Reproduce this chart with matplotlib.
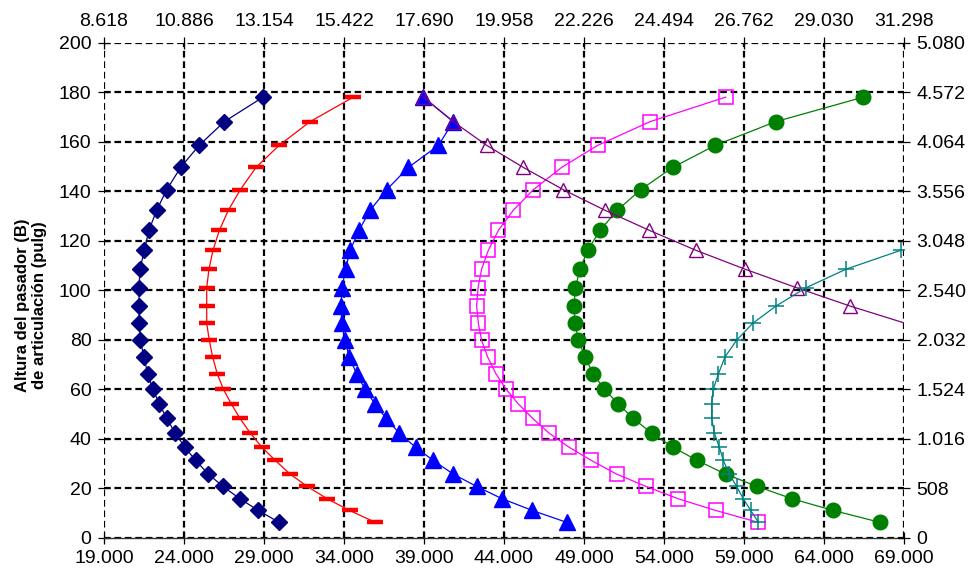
import matplotlib
matplotlib.use("Agg")
import matplotlib.pyplot as plt

plt.rcParams['font.family'] = ['Liberation Sans', 'DejaVu Sans']

# ======================
# data
# ======================
# common heights (pulg), bottom -> top
Y = [6.2, 11.0, 15.7, 20.7, 25.7, 31.2, 36.5, 42.2, 48.2, 54.0, 60.0, 66.2, 73.0,
     79.8, 86.6, 93.6, 101.0, 108.5, 116.1, 124.2, 132.3, 140.6, 149.6, 158.5, 168.1, 178.0]

navy_x = [29940, 28650, 27500, 26440, 25520, 24730, 24060, 23460, 22920, 22460, 22060, 21730, 21500,
          21270, 21190, 21190, 21190, 21250, 21520, 21810, 22290, 22920, 23790, 24940, 26520, 28940]
red_x = [35960, 34350, 32960, 31710, 30630, 29710, 28880, 28150, 27500, 26960, 26460, 26080, 25790,
         25580, 25420, 25420, 25420, 25560, 25810, 26210, 26770, 27520, 28500, 29940, 31880, 34580]
blue_x = [47920, 45770, 43900, 42290, 40830, 39580, 38480, 37460, 36630, 35940, 35310, 34790, 34330,
          34060, 33860, 33810, 33880, 34100, 34380, 34940, 35630, 36670, 38020, 39900, 40830, 38960]
mag_x = [59890, 57230, 54900, 52880, 51040, 49460, 48080, 46830, 45790, 44900, 44130, 43500, 42980,
         42600, 42400, 42290, 42380, 42600, 43020, 43650, 44580, 45830, 47600, 49850, 53130, 57850]
green_x = [67500, 64580, 62020, 59830, 57850, 56080, 54580, 53230, 52080, 51150, 50270, 49580, 49060,
           48650, 48440, 48375, 48460, 48750, 49230, 50000, 51080, 52540, 54540, 57190, 60980, 66460]
# purple starts at Y[14], teal stops at Y[18]
purple_x = [69100, 65630, 62290, 59060, 56000, 53080, 50310, 47710, 45210, 42920, 40830, 38960]
purple_y = Y[14:]
teal_x = [59900, 59420, 58960, 58540, 58080, 57710, 57460, 57150, 56980, 56980, 57080, 57400, 57810,
          58540, 59540, 61000, 62880, 65380, 68790]
teal_y = Y[:19]

x_ticks = [19000, 24000, 29000, 34000, 39000, 44000, 49000, 54000, 59000, 64000, 69000]
x_labels = ['19.000', '24.000', '29.000', '34.000', '39.000', '44.000',
            '49.000', '54.000', '59.000', '64.000', '69.000']
top_labels = ['8.618', '10.886', '13.154', '15.422', '17.690', '19.958',
              '22.226', '24.494', '26.762', '29.030', '31.298']
y_ticks = [0, 20, 40, 60, 80, 100, 120, 140, 160, 180, 200]
right_labels = ['0', '508', '1.016', '1.524', '2.032', '2.540',
                '3.048', '3.556', '4.064', '4.572', '5.080']

XMIN, XMAX = 19000, 69000
YMIN, YMAX = 0, 200

# ======================
# figure
# ======================
fig = plt.figure(figsize=(9.77, 5.71), dpi=100)
ax = fig.add_axes([104 / 977, 1 - 537.7 / 571, 800 / 977, 495 / 571])

ax.plot(navy_x, Y, color='#000080', lw=0.9, marker='D', ms=8, mec='#000080', mfc='#000080', zorder=3)
ax.plot(red_x, Y, color='#FF0000', lw=0.9, marker='_', ms=11, mew=3.2, mec='#FF0000', zorder=3)
ax.plot(blue_x, Y, color='#0000FF', lw=0.9, marker='^', ms=11, mec='#0000FF', mfc='#0000FF', zorder=3)
ax.plot(mag_x, Y, color='#FF00FF', lw=0.9, marker='s', ms=9.5, mew=1.1, mec='#FF00FF', mfc='none', zorder=3)
ax.plot(green_x, Y, color='#008000', lw=0.9, marker='o', ms=10.5, mec='#008000', mfc='#008000', zorder=3)
inside = [i for i, v in enumerate(purple_x) if v <= XMAX]
ax.plot(purple_x, purple_y, color='#800080', lw=0.9, marker='^', ms=10.5, mew=1.0, mec='#800080',
        mfc='none', markevery=inside, zorder=4)
ax.plot(teal_x, teal_y, color='#008080', lw=0.9, marker='+', ms=11, mew=1.1, mec='#008080', zorder=4)

ax.set_xlim(XMIN, XMAX)
ax.set_ylim(YMIN, YMAX)
ax.set_xticks(x_ticks)
ax.set_xticklabels(x_labels)
ax.set_yticks(y_ticks)
ax.set_yticklabels([str(v) for v in y_ticks])
ax.grid(True, color='black', lw=1.6, linestyle=(0, (3, 1.7)), zorder=1)
ax.set_axisbelow(True)

for s in ['left', 'right', 'top']:
    ax.spines[s].set_visible(False)
ax.spines['bottom'].set_color('#333333')
ax.spines['bottom'].set_linewidth(1.0)
ax.tick_params(axis='both', direction='inout', length=8, width=0.9, labelsize=14, pad=5)

# top axis (metric force)
axt = ax.twiny()
axt.set_xlim(XMIN, XMAX)
axt.set_xticks(x_ticks)
axt.set_xticklabels(top_labels)
axt.tick_params(axis='x', direction='inout', length=8, width=0.9, labelsize=14, pad=5)

# right axis (mm)
axr = ax.twinx()
axr.set_ylim(YMIN, YMAX)
axr.set_yticks(y_ticks)
axr.set_yticklabels(right_labels)
axr.tick_params(axis='y', direction='inout', length=8, width=0.9, labelsize=14, pad=5)

for a in (axt, axr):
    for s in a.spines.values():
        s.set_visible(False)

fig.text(31 / 977, 1 - 305 / 571, "Altura del pasador (B)\nde articulación (pulg)",
         rotation=90, ha='center', va='center', ma='center', fontsize=12, fontweight='bold',
         linespacing=1.1)

fig.savefig('out.png', dpi=100)
